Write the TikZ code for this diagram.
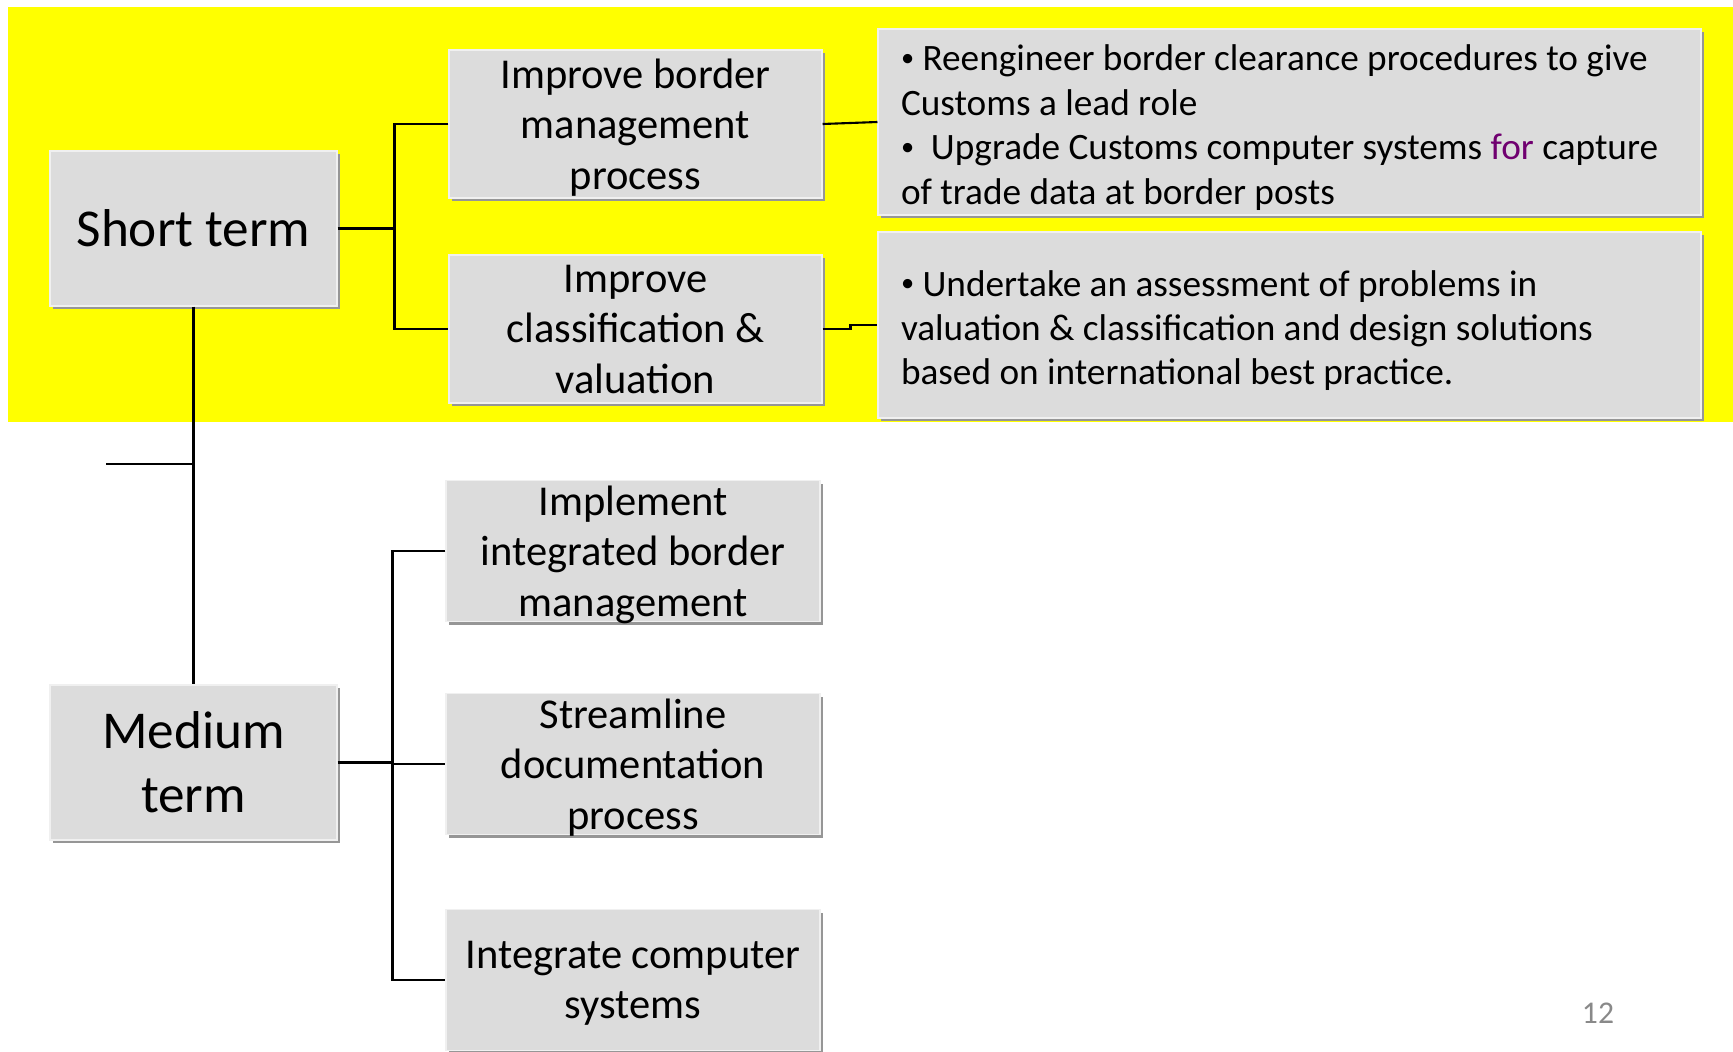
\documentclass[tikz,border=0pt]{standalone}
\usepackage{fontspec}
\setmainfont{Carlito}
\usepackage{tikz}
\usetikzlibrary{positioning,shadows}
\definecolor{boxgray}{RGB}{220,220,220}
\definecolor{shadowgray}{RGB}{150,150,150}
\definecolor{forpurple}{RGB}{112,0,112}
\definecolor{pagegray}{RGB}{137,137,137}
\definecolor{slideyellow}{RGB}{255,255,0}
\newcommand{\termfont}{\fontsize{30.3}{36.3}\selectfont}
\newcommand{\taskfont}{\fontsize{24.2}{28.8}\selectfont}
\newcommand{\notefont}{\fontsize{21.2}{25.3}\selectfont}
\newcommand{\nbul}{\rule{0pt}{0.74cm}\raisebox{0.12em}{\fontsize{15}{15}\selectfont •}}
\tikzstyle{plainbox}=[shape=rectangle,draw=black!6,line width=0.6pt,fill=boxgray,inner sep=0pt,drop shadow={shadow xshift=0.06cm,shadow yshift=-0.06cm,opacity=1,fill=shadowgray}]
\tikzstyle{termbox}=[plainbox,minimum width=5.74cm,minimum height=3.1cm,align=center,font=\termfont]
\tikzstyle{taskbox}=[plainbox,minimum width=7.46cm,minimum height=2.96cm,align=center,text depth=0pt,font=\taskfont]
\tikzstyle{lowbox}=[taskbox,minimum width=7.48cm,minimum height=2.82cm]
\tikzstyle{notebox}=[plainbox,minimum height=3.72cm,inner xsep=0.46cm,text width=15.54cm,align=flush left,font=\notefont]
\tikzstyle{link}=[draw=black,line width=1.2pt]

\begin{document}
\begin{tikzpicture}
\useasboundingbox (0,0) rectangle (34.66,-21.04);
\fill[slideyellow] (0.16,-0.14) rectangle (34.66,-8.44);

\node[termbox] (ST) at (3.87,-4.57) {Short term};
\node[termbox] (MT) at (3.87,-15.25) {Medium\\term};

\node[taskbox] (B1) at (12.71,-2.48) {Improve border\\management\\process};
\node[taskbox] (B2) at (12.71,-6.58) {Improve\\classification \&\\valuation};

\node[notebox] (N1) at (25.79,-2.44) {\nbul\ Reengineer border clearance procedures to give\\Customs a lead role\\\nbul\ \ Upgrade Customs computer systems \textcolor{forpurple}{for} capture\\of trade data at border posts};
\node[notebox] (N2) at (25.79,-6.5) {\nbul\ Undertake an assessment of problems in\\valuation \& classification and design solutions\\based on international best practice.};

\node[lowbox] (M1) at (12.66,-11.02) {Implement\\integrated border\\management};
\node[lowbox] (M2) at (12.66,-15.28) {Streamline\\documentation\\process};
\node[lowbox] (M3) at (12.66,-19.6) {Integrate computer\\systems};

\node[font=\fontsize{18}{20}\selectfont,text=pagegray] (PG) at (31.96,-20.26) {12};

\coordinate[right=1.14cm of ST.east] (JS);
\coordinate[right=1.1cm of MT.east] (JM);
\coordinate (STUB) at (2.12,-9.28);

\draw[link] (ST.east) -- (JS);
\draw[link] (B1.west) -| (JS) |- (B2.west);
\draw[link] (B1.east) -- (N1.west);
\draw[link] (B2.east) -- ++(0.56,0) |- (N2.west);

\draw[link] (ST.south) -- (MT.north);
\draw[link] (STUB) -- (STUB -| ST.south);

\draw[link] (MT.east) -- (JM);
\draw[link] (M1.west) -| (JM) |- (M3.west);
\draw[link] (JM |- M2.west) -- (M2.west);

\end{tikzpicture}
\end{document}
